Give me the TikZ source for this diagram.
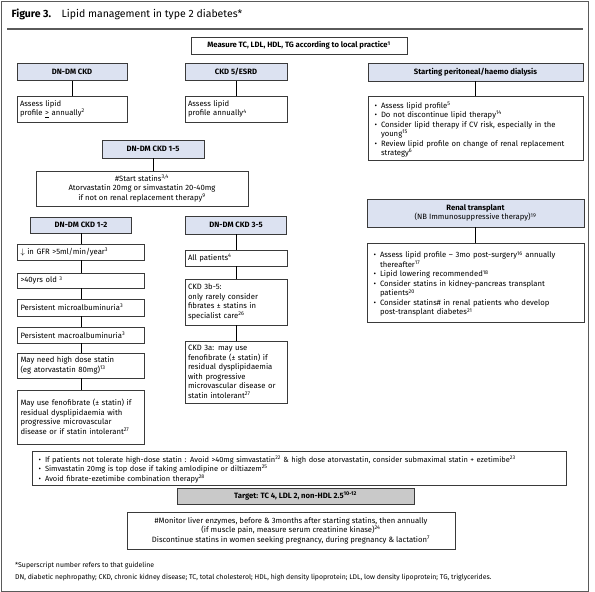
\documentclass[tikz,border=0pt]{standalone}
\usepackage{fontspec}
\setmainfont{Fira Sans}
\definecolor{hdrblue}{HTML}{DCE2F1}
\definecolor{boxline}{HTML}{3A3A3A}
\definecolor{framegray}{HTML}{5A5A5A}
\definecolor{targetgray}{HTML}{C9C9C9}
\usetikzlibrary{positioning}
\newcommand{\sups}[1]{\textsuperscript{#1}}
\newenvironment{bullist}{\setlength{\linewidth}{\hsize}\begin{list}{\textbullet}{\setlength{\leftmargin}{10pt}\setlength{\labelwidth}{6pt}\setlength{\labelsep}{4pt}\setlength{\itemsep}{0pt}\setlength{\parsep}{0pt}\setlength{\topsep}{0pt}\setlength{\partopsep}{0pt}}\raggedright}{\end{list}}

\begin{document}
\begin{tikzpicture}[
  x=1pt, y=-1pt,
  hdr/.style={rectangle, draw=boxline, fill=hdrblue, line width=0.6pt, inner sep=1pt, font=\bfseries\fontsize{7.7}{9.5}\selectfont, align=center},
  txt/.style={rectangle, draw=boxline, fill=white, line width=0.6pt, inner xsep=3pt, inner ysep=2pt, font=\fontsize{7.7}{9.5}\selectfont, align=left},
  ctxt/.style={txt, align=center},
  link/.style={draw=black, line width=1pt},
]
\useasboundingbox (0,0) rectangle (595,592);
\draw[framegray, line width=0.8pt] (1,1) rectangle (588,591);
\node[anchor=west, font=\fontsize{10.5}{12}\selectfont] (title) at (8,14) {\textbf{Figure 3.}\quad Lipid management in type 2 diabetes*};
\draw[framegray, line width=1.6pt] (7,29) -- (583,29);

\node[ctxt, font=\bfseries\fontsize{7.7}{9.5}\selectfont, minimum width=216, minimum height=17] (measure) at (299,45.5) {Measure TC, LDL, HDL, TG according to local practice\sups{1}};

% top row
\node[hdr, minimum width=110, minimum height=17] (ckd) at (72,72) {DN-DM CKD};
\node[txt, text width=104pt, minimum height=26] (ckdlipid) at (72,109) {Assess lipid\\profile \underline{>} annually\sups{2}};
\node[hdr, minimum width=102, minimum height=17] (esrd) at (236,72) {CKD 5/ESRD};
\node[txt, text width=96pt, minimum height=26] (esrdlipid) at (236,109) {Assess lipid\\profile annually\sups{4}};
\node[hdr, minimum width=215, minimum height=18] (dialysis) at (475.5,72) {Starting peritoneal/haemo dialysis};
\node[txt, text width=209pt, minimum height=64] (dialysislist) at (475.5,128) {\begin{bullist}
\item Assess lipid profile\sups{5}
\item Do not discontinue lipid therapy\sups{14}
\item Consider lipid therapy if CV risk, especially in the\newline young\sups{15}
\item Review lipid profile on change of renal replacement\newline strategy\sups{6}
\end{bullist}};

% statins
\node[hdr, minimum width=102, minimum height=18] (ckdall) at (153,149) {DN-DM CKD 1-5};
\node[ctxt, minimum width=212, minimum height=35] (statins) at (142,188.5) {\#Start statins\sups{3,4}\\Atorvastatin 20mg or simvastatin 20-40mg\\if not on renal replacement therapy\sups{9}};

% left column
\node[hdr, minimum width=101, minimum height=16] (ckdearly) at (81,225) {DN-DM CKD 1-2};
\node[txt, text width=121pt, minimum height=16] (gfr) at (81,252) {$\downarrow$ in GFR >5ml/min/year\sups{3}};
\node[txt, text width=121pt, minimum height=15] (age) at (81,280.5) {>40yrs old \sups{3}};
\node[txt, text width=121pt, minimum height=17] (micro) at (81,307.5) {Persistent microalbuminuria\sups{3}};
\node[txt, text width=121pt, minimum height=16] (macro) at (81,335) {Persistent macroalbuminuria\sups{3}};
\node[txt, text width=121pt, minimum height=25] (highdose) at (81,365.5) {May need high dose statin\\(eg atorvastatin 80mg)\sups{13}};
\node[txt, text width=121pt, minimum height=54] (fenoearly) at (81,417) {May use fenofibrate (± statin) if\\residual dysplipidaemia with\\progressive microvascular\\disease or if statin intolerant\sups{27}};

% centre column
\node[hdr, minimum width=101, minimum height=18] (ckdlate) at (236,225) {DN-DM CKD 3-5};
\node[txt, text width=96pt, minimum height=16] (allpat) at (236,258) {All patients\sups{4}};
\node[txt, text width=96pt, minimum height=46] (fibrates) at (236,302) {CKD 3b-5:\\only rarely consider\\fibrates ± statins in\\specialist care\sups{26}};
\node[txt, text width=96pt, minimum height=62] (fenolate) at (236,372) {CKD 3a: may use\\fenofibrate (± statin) if\\residual dysplipidaemia\\with progressive\\microvascular disease or\\statin intolerant\sups{27}};

% transplant
\node[hdr, minimum width=217, minimum height=28] (renal) at (475.5,213) {Renal transplant\\{\mdseries (NB Immunosuppressive therapy)\sups{19}}};
\node[txt, text width=211pt, minimum height=79] (renallist) at (475.5,282.5) {\begin{bullist}
\item Assess lipid profile -- 3mo post-surgery\sups{16} annually\newline thereafter\sups{17}
\item Lipid lowering recommended\sups{18}
\item Consider statins in kidney-pancreas transplant\newline patients\sups{20}
\item Consider statins\# in renal patients who develop\newline post-transplant diabetes\sups{21}
\end{bullist}\vspace{14pt}};

% bottom
\node[txt, font=\fontsize{7.5}{9.5}\selectfont, text width=528pt, minimum height=31] (tolerance) at (299,468) {\begin{bullist}
\item If patients not tolerate high-dose statin : Avoid >40mg simvastatin\sups{22} \& high dose atorvastatin, consider submaximal statin + ezetimibe\sups{23}
\item Simvastatin 20mg is top dose if taking amlodipine or diltiazem\sups{25}
\item Avoid fibrate-ezetimibe combination therapy\sups{28}
\end{bullist}};
\node[ctxt, fill=targetgray, font=\bfseries\fontsize{7.7}{9.5}\selectfont, minimum width=237, minimum height=16] (target) at (295.5,496) {Target: TC 4, LDL 2, non-HDL 2.5\sups{10-12}};
\node[ctxt, minimum width=328, minimum height=37] (monitor) at (291,530.5) {\#Monitor liver enzymes, before \& 3months after starting statins, then annually\\(if muscle pain, measure serum creatinine kinase)\sups{24}\\Discontinue statins in women seeking pregnancy, during pregnancy \& lactation\sups{7}};

\node[anchor=west, inner sep=0pt, font=\fontsize{6.9}{8}\selectfont] (note) at (15,566) {*Superscript number refers to that guideline};
\node[anchor=west, inner sep=0pt, font=\fontsize{6.9}{8}\selectfont] (abbrev) at (15,578) {DN, diabetic nephropathy; CKD, chronic kidney disease; TC, total cholesterol; HDL, high density lipoprotein; LDL, low density lipoprotein; TG, triglycerides.};

% connectors
\draw[link] (ckd) -- (ckdlipid);
\draw[link] (esrd) -- (esrdlipid);
\draw[link] (dialysis) -- (dialysislist);
\draw[link] (ckdall.south) -- (ckdall.south |- statins.north);
\draw[link] (ckdearly) -- (gfr);
\draw[link] (gfr) -- (age);
\draw[link] (age) -- (micro);
\draw[link] (micro) -- (macro);
\draw[link] (macro) -- (highdose);
\draw[link] (highdose) -- (fenoearly);
\draw[link] (ckdlate) -- (allpat);
\draw[link] (allpat) -- (fibrates);
\draw[link] (fibrates) -- (fenolate);
\draw[link] (renal) -- (renallist);
\end{tikzpicture}
\end{document}
